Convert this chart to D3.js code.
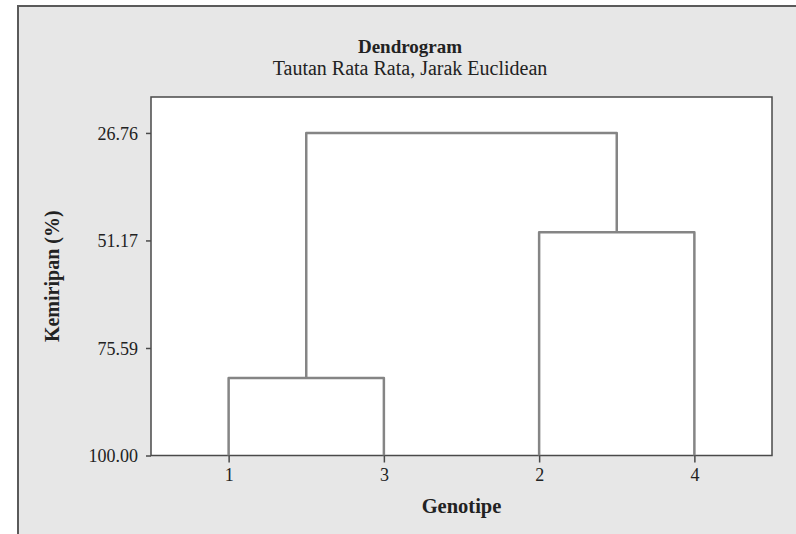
<!DOCTYPE html>
<html>
<head>
<meta charset="utf-8">
<script src="https://cdn.jsdelivr.net/npm/d3@7"></script>
<style>
	body { margin: 0; background: #fff; }
	text { font-family: "Liberation Serif", "Times New Roman", serif; fill: #222; }
</style>
</head>
<body>
<svg id="chart" width="796" height="534"></svg>
<script>
(function(){

	// leaves in dendrogram order (left to right)
	const leaves = ["1", "3", "2", "4"];
	// each merge joins mergeLeft[i] and mergeRight[i] at similarity mergeSim[i] into mergeName[i]
	const mergeName = ["C1", "C2", "C3"];
	const mergeLeft = ["1", "2", "C1"];
	const mergeRight = ["3", "4", "C2"];
	const mergeSim = [82.4, 49.3, 26.76];
	const yTicks = [100.00, 75.59, 51.17, 26.76];

	const title = "Dendrogram";
	const subtitle = "Tautan Rata Rata, Jarak Euclidean";
	const xTitle = "Genotipe";
	const yTitle = "Kemiripan (%)";

	const svg = d3.select("#chart");

	const plot = {left: 151, right: 772, top: 97, bottom: 455.5};
	const lineColor = "#858585";
	const axisColor = "#4a4a4a";

	// outer panel, right and bottom edges run off the picture
	svg.append("rect")
		.attr("x", 18).attr("y", 6)
		.attr("width", 800).attr("height", 540)
		.attr("fill", "#e7e7e7")
		.attr("stroke", "#5a5a5a")
		.attr("stroke-width", 2);

	svg.append("rect")
		.attr("x", plot.left).attr("y", plot.top)
		.attr("width", plot.right - plot.left).attr("height", plot.bottom - plot.top)
		.attr("fill", "#fff")
		.attr("stroke", axisColor)
		.attr("stroke-width", 1.5);

	const x = d3.scalePoint().domain(leaves).range([plot.left, plot.right]).padding(0.5);
	const y = d3.scaleLinear().domain([100, 18.6]).range([plot.bottom, plot.top]);

	// node positions: leaves sit at 100% similarity, clusters in the middle of their children
	const pos = {};
	leaves.forEach(function(l) { pos[l] = {x: x(l), y: y(100)}; });
	const links = [];
	for (let i = 0; i < mergeName.length; i++) {
		const a = pos[mergeLeft[i]];
		const b = pos[mergeRight[i]];
		const ym = y(mergeSim[i]);
		pos[mergeName[i]] = {x: (a.x + b.x) / 2, y: ym};
		links.push({a: a, b: b, y: ym});
	}

	svg.append("g").selectAll("path")
		.data(links)
		.enter().append("path")
		.attr("d", function(d) {
			return "M" + d.a.x + "," + d.a.y + "V" + d.y + "H" + d.b.x + "V" + d.b.y;
		})
		.attr("fill", "none")
		.attr("stroke", lineColor)
		.attr("stroke-width", 2.5)
		.attr("stroke-linejoin", "round");

	// axes
	const yAxis = svg.append("g")
		.attr("transform", "translate(" + plot.left + ",0)")
		.call(d3.axisLeft(y).tickValues(yTicks).tickFormat(d3.format(".2f")).tickSize(5).tickPadding(8));
	const xAxis = svg.append("g")
		.attr("transform", "translate(0," + plot.bottom + ")")
		.call(d3.axisBottom(x).tickSize(7).tickPadding(6));

	[yAxis, xAxis].forEach(function(ax) {
		ax.select(".domain").remove();
		ax.selectAll("line").attr("stroke", axisColor).attr("stroke-width", 1.5);
		ax.selectAll("text")
			.attr("font-family", "Liberation Serif, serif")
			.attr("font-size", 18)
			.attr("fill", "#333");
	});
	yAxis.selectAll("text").attr("dy", "0.35em");

	svg.append("text")
		.attr("x", 410).attr("y", 53)
		.attr("text-anchor", "middle")
		.attr("font-size", 19)
		.attr("font-weight", "bold")
		.text(title);

	svg.append("text")
		.attr("x", 410).attr("y", 75)
		.attr("text-anchor", "middle")
		.attr("font-size", 20)
		.text(subtitle);

	svg.append("text")
		.attr("x", (plot.left + plot.right) / 2).attr("y", 513)
		.attr("text-anchor", "middle")
		.attr("font-size", 20.5)
		.attr("font-weight", "bold")
		.text(xTitle);

	svg.append("text")
		.attr("transform", "translate(59," + ((plot.top + plot.bottom) / 2) + ") rotate(-90)")
		.attr("text-anchor", "middle")
		.attr("font-size", 20)
		.attr("font-weight", "bold")
		.text(yTitle);

}());
</script>
</body>
</html>
